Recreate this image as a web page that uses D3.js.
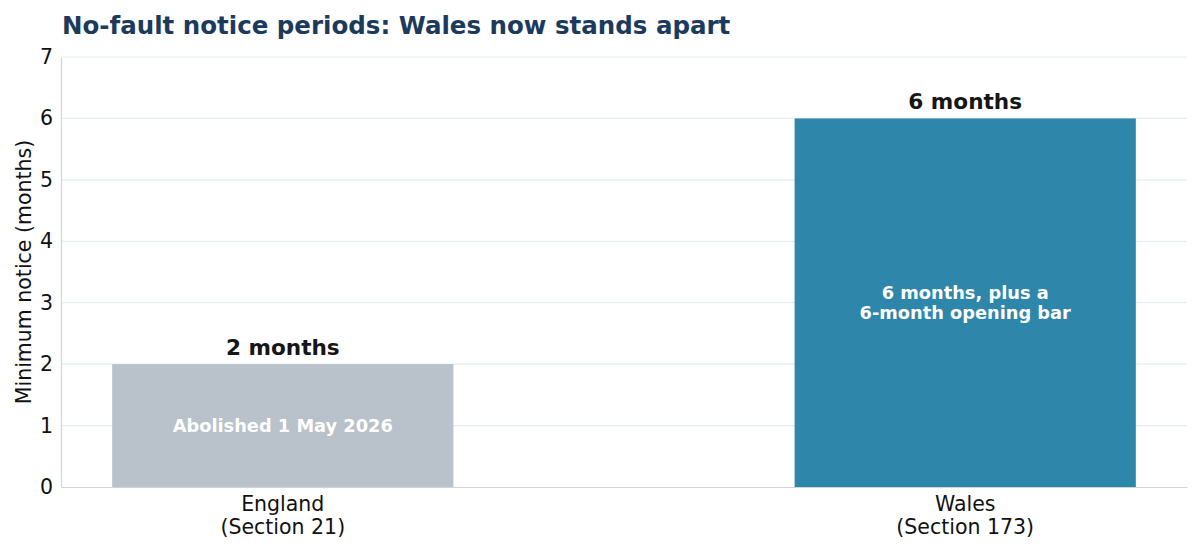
<!DOCTYPE html>
<html>
<head>
<meta charset="utf-8">
<script src="https://cdn.jsdelivr.net/npm/d3@7"></script>
<style>
  body { margin: 0; background: #fff; }
  svg, svg text { font-family: "DejaVu Sans", sans-serif; }
</style>
</head>
<body>
<svg id="chart" width="1200" height="551"></svg>
<script>
const regions = ["England", "Wales"];
const regionSubs = ["(Section 21)", "(Section 173)"];
const noticeMonths = [2, 6];
const valueLabels = ["2 months", "6 months"];
const innerLabels = [["Abolished 1 May 2026"], ["6 months, plus a", "6-month opening bar"]];
const barColors = ["#b9c1ca", "#2e86ab"];
const yTicks = [0, 1, 2, 3, 4, 5, 6, 7];

const width = 1200, height = 551;
const margin = { top: 57, right: 13, bottom: 64, left: 61 };

const svg = d3.select("#chart");

const x = d3.scaleBand()
  .domain(regions)
  .range([margin.left, width - margin.right])
  .paddingInner(0.5)
  .paddingOuter(0.075);

const y = d3.scaleLinear()
  .domain([0, 7])
  .range([height - margin.bottom, margin.top]);

// gridlines
svg.append("g")
  .selectAll("line")
  .data(yTicks.filter(d => d > 0))
  .enter()
  .append("line")
  .attr("x1", margin.left)
  .attr("x2", width - margin.right)
  .attr("y1", d => y(d))
  .attr("y2", d => y(d))
  .attr("stroke", "#e6edf1")
  .attr("stroke-width", 1.2);

// bars
svg.append("g")
  .selectAll("rect")
  .data(regions)
  .enter()
  .append("rect")
  .attr("x", d => x(d))
  .attr("width", x.bandwidth())
  .attr("y", (d, i) => y(noticeMonths[i]))
  .attr("height", (d, i) => y(0) - y(noticeMonths[i]))
  .attr("fill", (d, i) => barColors[i]);

// axes
const yAxis = svg.append("g")
  .attr("transform", `translate(${margin.left},0)`)
  .call(d3.axisLeft(y).tickValues(yTicks).tickFormat(d3.format("d")).tickSize(0).tickPadding(8));
yAxis.attr("font-family", null).attr("font-size", null);
yAxis.select(".domain").attr("stroke", "#d0d5da").attr("stroke-width", 1.2);
yAxis.selectAll("text")
  .style("font-size", "20.5px")
  .attr("fill", "#111");

const xAxis = svg.append("g")
  .attr("transform", `translate(0,${y(0)})`)
  .call(d3.axisBottom(x).tickSize(0).tickFormat(""));
xAxis.select(".domain").attr("stroke", "#d0d5da").attr("stroke-width", 1.2);

// category labels
const catLabels = svg.append("g")
  .selectAll("text")
  .data(regions)
  .enter()
  .append("text")
  .attr("text-anchor", "middle")
  .attr("x", d => x(d) + x.bandwidth() / 2)
  .attr("y", y(0) + 24)
  .style("font-size", "20.5px")
  .attr("fill", "#111");
catLabels.append("tspan")
  .attr("x", d => x(d) + x.bandwidth() / 2)
  .text(d => d);
catLabels.append("tspan")
  .attr("x", d => x(d) + x.bandwidth() / 2)
  .attr("dy", 23)
  .text((d, i) => regionSubs[i]);

// value labels above bars
svg.append("g")
  .selectAll("text")
  .data(regions)
  .enter()
  .append("text")
  .attr("text-anchor", "middle")
  .attr("x", d => x(d) + x.bandwidth() / 2)
  .attr("y", (d, i) => y(noticeMonths[i]) - 9)
  .style("font-size", "21.6px")
  .style("font-weight", "bold")
  .attr("fill", "#161616")
  .text((d, i) => valueLabels[i]);

// labels inside bars
const inner = svg.append("g")
  .selectAll("text")
  .data(regions)
  .enter()
  .append("text")
  .attr("text-anchor", "middle")
  .attr("x", d => x(d) + x.bandwidth() / 2)
  .attr("y", (d, i) => y(noticeMonths[i] / 2) - (innerLabels[i].length - 1) * 10 + 6)
  .style("font-size", "17.8px")
  .style("font-weight", "bold")
  .attr("fill", "#fff");
inner.each(function (d, i) {
  const t = d3.select(this);
  innerLabels[i].forEach((line, j) => {
    t.append("tspan")
      .attr("x", x(d) + x.bandwidth() / 2)
      .attr("dy", j === 0 ? 0 : 20)
      .text(line);
  });
});

// y axis title
svg.append("text")
  .attr("transform", `translate(31,${(y(0) + y(7)) / 2}) rotate(-90)`)
  .attr("text-anchor", "middle")
  .style("font-size", "20.5px")
  .attr("fill", "#111")
  .text("Minimum notice (months)");

// title
svg.append("text")
  .attr("x", 62)
  .attr("y", 34)
  .style("font-size", "24.5px")
  .style("font-weight", "bold")
  .attr("fill", "#1b3a5c")
  .text("No-fault notice periods: Wales now stands apart");
</script>
</body>
</html>
